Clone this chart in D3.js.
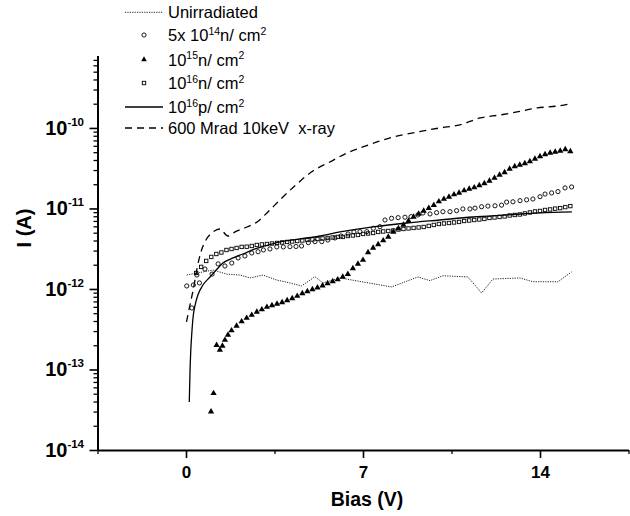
<!DOCTYPE html>
<html><head><meta charset="utf-8">
<script src="https://cdn.jsdelivr.net/npm/d3@7"></script>
<style>
body{margin:0;background:#fff}
svg{display:block}
text{font-family:Arial,"Liberation Sans",Helvetica,sans-serif;fill:#000;white-space:pre}
</style>
</head><body>
<svg id="c" width="630" height="516"></svg>
<script>
// ---------------- data (Bias in V, current in A) ----------------
const biasUnirr = [0.03,1.07,1.61,2.14,2.53,3.04,3.59,4.11,4.57,5.10,5.42,6.09,8.13,9.17,9.65,10.16,11.15,11.69,12.14,13.21,13.72,14.71,15.25];
const iUnirr    = [1.49e-12,1.72e-12,1.53e-12,1.49e-12,1.37e-12,1.49e-12,1.29e-12,1.19e-12,1.09e-12,1.42e-12,1.19e-12,1.37e-12,1.06e-12,1.41e-12,1.27e-12,1.46e-12,1.41e-12,8.9e-13,1.33e-12,1.37e-12,1.23e-12,1.23e-12,1.63e-12];

const bias5e14n = [0.03,0.23,0.29,0.43,0.53,0.75,1.03,1.27,1.54,1.81,2.06,2.33,2.60,2.85,3.06,3.32,3.59,3.85,4.11,4.35,4.57,4.84,5.10,5.37,5.61,5.89,6.13,6.41,6.64,6.88,7.15,7.41,7.67,7.87,8.13,8.39,8.66,8.90,9.17,9.37,9.65,9.91,10.16,10.44,10.70,10.95,11.23,11.43,11.69,11.94,12.22,12.48,12.68,12.93,13.21,13.47,13.72,14.00,14.20,14.46,14.71,14.99,15.25];
const i5e14n    = [1.09e-12,5.81e-13,1.12e-12,1.49e-12,1.19e-12,1.77e-12,1.53e-12,2.05e-12,1.93e-12,2.10e-12,2.43e-12,2.57e-12,2.80e-12,2.90e-12,3.05e-12,3.14e-12,3.33e-12,3.33e-12,3.35e-12,3.37e-12,3.42e-12,3.76e-12,3.87e-12,3.87e-12,4.06e-12,4.30e-12,4.55e-12,4.82e-12,5.11e-12,5.15e-12,5.15e-12,5.67e-12,5.94e-12,7.19e-12,7.55e-12,7.69e-12,7.78e-12,7.91e-12,8.30e-12,8.79e-12,8.55e-12,8.87e-12,9.12e-12,9.12e-12,9.39e-12,9.86e-12,9.86e-12,1.01e-11,1.05e-11,1.07e-11,1.08e-11,1.10e-11,1.20e-11,1.21e-11,1.25e-11,1.28e-11,1.31e-11,1.40e-11,1.51e-11,1.56e-11,1.62e-11,1.80e-11,1.85e-11];

const bias1e15n = [0.99,1.09,1.21,1.34,1.44,1.54,1.66,1.8,2.0,2.2,2.4,2.6,2.8,3.0,3.2,3.4,3.6,3.8,4.0,4.2,4.4,4.6,4.8,5.0,5.2,5.4,5.6,5.8,6.0,6.2,6.4,6.6,6.8,7.0,7.2,7.4,7.6,7.8,8.0,8.2,8.4,8.6,8.8,9.0,9.2,9.4,9.6,9.8,10.0,10.2,10.4,10.6,10.8,11.0,11.2,11.4,11.6,11.8,12.0,12.2,12.4,12.6,12.8,13.0,13.2,13.4,13.6,13.8,14.0,14.2,14.4,14.6,14.8,15.0,15.2];
const i1e15n    = [2.99e-14,5.06e-14,2.01e-13,1.75e-13,1.96e-13,2.32e-13,2.69e-13,3.05e-13,3.47e-13,3.94e-13,4.36e-13,4.75e-13,5.18e-13,5.56e-13,5.97e-13,6.24e-13,6.51e-13,6.80e-13,7.20e-13,7.62e-13,8.18e-13,8.79e-13,9.31e-13,9.86e-13,1.04e-12,1.10e-12,1.17e-12,1.24e-12,1.31e-12,1.41e-12,1.53e-12,1.80e-12,2.05e-12,2.29e-12,2.84e-12,3.23e-12,3.57e-12,4.00e-12,4.43e-12,5.11e-12,5.65e-12,6.24e-12,6.99e-12,7.84e-12,8.55e-12,9.31e-12,1.01e-11,1.10e-11,1.22e-11,1.31e-11,1.39e-11,1.49e-11,1.56e-11,1.67e-11,1.75e-11,1.82e-11,1.93e-11,2.05e-11,2.20e-11,2.39e-11,2.61e-11,2.80e-11,3.10e-11,3.33e-11,3.47e-11,3.62e-11,3.84e-11,4.12e-11,4.43e-11,4.69e-11,4.89e-11,5.04e-11,5.18e-11,5.41e-11,5.11e-11];

const bias1e16n = [0.4,0.6,0.8,1.0,1.2,1.4,1.6,1.8,2.0,2.2,2.4,2.6,2.8,3.0,3.2,3.4,3.6,3.8,4.0,4.2,4.4,4.6,4.8,5.0,5.2,5.4,5.6,5.8,6.0,6.2,6.4,6.6,6.8,7.0,7.2,7.4,7.6,7.8,8.0,8.2,8.4,8.6,8.8,9.0,9.2,9.4,9.6,9.8,10.0,10.2,10.4,10.6,10.8,11.0,11.2,11.4,11.6,11.8,12.0,12.2,12.4,12.6,12.8,13.0,13.2,13.4,13.6,13.8,14.0,14.2,14.4,14.6,14.8,15.0,15.2];
const i1e16n    = [1.58e-12,1.88e-12,2.23e-12,2.50e-12,2.72e-12,2.84e-12,3.05e-12,3.14e-12,3.23e-12,3.33e-12,3.35e-12,3.42e-12,3.52e-12,3.57e-12,3.62e-12,3.67e-12,3.73e-12,3.78e-12,3.84e-12,3.89e-12,3.94e-12,4.00e-12,4.06e-12,4.12e-12,4.18e-12,4.24e-12,4.30e-12,4.36e-12,4.43e-12,4.43e-12,4.55e-12,4.62e-12,4.69e-12,4.82e-12,4.89e-12,4.96e-12,5.11e-12,5.18e-12,5.25e-12,5.33e-12,5.48e-12,5.56e-12,5.65e-12,5.73e-12,5.81e-12,5.89e-12,6.07e-12,6.24e-12,6.42e-12,6.51e-12,6.60e-12,6.70e-12,6.80e-12,6.99e-12,7.09e-12,7.19e-12,7.30e-12,7.41e-12,7.62e-12,7.73e-12,7.84e-12,7.96e-12,8.18e-12,8.30e-12,8.42e-12,8.67e-12,8.92e-12,9.18e-12,9.31e-12,9.58e-12,9.72e-12,9.95e-12,1.01e-11,1.04e-11,1.07e-11];

const bias1e16p = [0.13,0.16,0.19,0.23,0.29,0.36,0.47,0.67,0.95,1.23,1.46,1.86,2.25,2.73,3.12,3.72,4.51,5.30,6.09,7.39,8.74,10.04,11.35,12.69,14.00,15.26];
const i1e16p    = [3.94e-14,9.86e-14,1.75e-13,2.84e-13,4.75e-13,6.32e-13,8.41e-13,1.12e-12,1.41e-12,1.77e-12,2.10e-12,2.43e-12,2.72e-12,3.14e-12,3.42e-12,3.84e-12,4.18e-12,4.55e-12,5.11e-12,5.89e-12,6.60e-12,7.19e-12,7.83e-12,8.30e-12,8.79e-12,9.05e-12];

const biasXray = [0.02,0.10,0.20,0.32,0.44,0.59,0.79,1.07,1.34,1.66,1.94,2.41,2.81,3.24,3.72,4.39,5.02,5.69,6.37,7.00,7.55,8.19,8.98,10.04,10.83,11.63,12.42,13.09,13.88,14.67,15.18];
const iXray    = [3.89e-13,5.18e-13,7.30e-13,1.12e-12,1.82e-12,2.88e-12,4.06e-12,5.11e-12,5.56e-12,4.55e-12,5.11e-12,5.89e-12,6.79e-12,9.05e-12,1.28e-11,2.02e-11,2.92e-11,3.78e-11,4.89e-11,5.81e-11,6.70e-11,7.73e-11,8.67e-11,1.00e-10,1.09e-10,1.33e-10,1.45e-10,1.58e-10,1.77e-10,1.87e-10,1.99e-10];

const xTickValues = [0, 7, 14];
const xTickLabels = ["0", "7", "14"];
const xMinorTicks = [-3.5, 3.5, 10.5, 17.5];
const yTickValues = [1e-14, 1e-13, 1e-12, 1e-11, 1e-10];
const yTickExponents = ["-14", "-13", "-12", "-11", "-10"];
const xTitle = "Bias (V)";
const yTitle = "I (A)";
// legend labels: segments [text, isSuperscript]
const legendLabels = [
  [["Unirradiated", false]],
  [["5x 10", false], ["14", true], ["n/ cm", false], ["2", true]],
  [["10", false], ["15", true], ["n/ cm", false], ["2", true]],
  [["10", false], ["16", true], ["n/ cm", false], ["2", true]],
  [["10", false], ["16", true], ["p/ cm", false], ["2", true]],
  [["600 Mrad 10keV  x-ray", false]]
];

// ---------------- chart ----------------
const svg = d3.select("#c");
const x = d3.scaleLinear().domain([-3.5, 17.5]).range([97.5, 628.5]);
const y = d3.scaleLog().domain([1e-14, 7.94e-10]).range([450, 55.5]);

const zip = (a, b) => a.map((v, i) => [v, b[i]]);

// axes
const yMinor = y.ticks().filter(t => !yTickValues.some(m => Math.abs(m - t) / m < 1e-6));
const gy = svg.append("g").attr("transform", `translate(${x.range()[0]},0)`);
gy.call(d3.axisLeft(y).tickValues(yMinor).tickSize(4).tickSizeOuter(0).tickFormat(""));
gy.call(g => g.selectAll(".tick line").attr("stroke-width", 1.3));
const gy2 = svg.append("g").attr("transform", `translate(${x.range()[0]},0)`);
gy2.call(d3.axisLeft(y).tickValues(yTickValues).tickSize(8).tickSizeOuter(0).tickFormat(""));
gy2.select(".domain").remove();
gy2.selectAll(".tick line").attr("stroke-width", 1.6);
gy.select(".domain").attr("stroke-width", 2);

yTickValues.forEach((v, i) => {
  const t = svg.append("text").attr("x", 84).attr("y", y(v) + 7).attr("text-anchor", "end")
    .attr("font-weight", "bold").attr("font-size", 20);
  t.append("tspan").text("10");
  t.append("tspan").attr("font-size", 11.5).attr("dy", -9).text(yTickExponents[i]);
});

const gx = svg.append("g").attr("transform", "translate(0,450)");
gx.call(d3.axisBottom(x).tickValues(xMinorTicks).tickSize(4).tickSizeOuter(0).tickFormat(""));
gx.select(".domain").attr("stroke-width", 2);
gx.selectAll(".tick line").attr("stroke-width", 1.3);
const gx2 = svg.append("g").attr("transform", "translate(0,450)");
gx2.call(d3.axisBottom(x).tickValues(xTickValues).tickSize(8).tickPadding(8).tickSizeOuter(0)
  .tickFormat((d, i) => xTickLabels[i]));
gx2.select(".domain").remove();
gx2.selectAll(".tick line").attr("stroke-width", 1.6);
gx2.selectAll(".tick text").attr("font-size", 17).attr("font-weight", "bold")
  .attr("font-family", "Arial, 'Liberation Sans', sans-serif").attr("fill", "#000");

svg.append("text").attr("x", 367).attr("y", 506).attr("text-anchor", "middle")
  .attr("font-weight", "bold").attr("font-size", 19.5).text(xTitle);
svg.append("text").attr("transform", "translate(31,228) rotate(-90)").attr("text-anchor", "middle")
  .attr("font-weight", "bold").attr("font-size", 20).text(yTitle);

// series
const lineLin = d3.line().x(d => x(d[0])).y(d => y(d[1]));
const lineSmooth = d3.line().x(d => x(d[0])).y(d => y(d[1])).curve(d3.curveMonotoneX);

svg.append("path").datum(zip(biasUnirr, iUnirr)).attr("d", lineLin)
  .attr("fill", "none").attr("stroke", "#222").attr("stroke-width", 1).attr("stroke-dasharray", "1.2,1.2");
svg.append("path").datum(zip(biasXray, iXray)).attr("d", lineSmooth)
  .attr("fill", "none").attr("stroke", "#000").attr("stroke-width", 1.3).attr("stroke-dasharray", "7,5");
svg.append("path").datum(zip(bias1e16p, i1e16p)).attr("d", lineSmooth)
  .attr("fill", "none").attr("stroke", "#000").attr("stroke-width", 1.3);

svg.append("g").selectAll("rect").data(zip(bias1e16n, i1e16n)).join("rect")
  .attr("x", d => x(d[0]) - 1.7).attr("y", d => y(d[1]) - 1.7).attr("width", 3.4).attr("height", 3.4)
  .attr("fill", "none").attr("stroke", "#000").attr("stroke-width", 0.9);
svg.append("g").selectAll("circle").data(zip(bias5e14n, i5e14n)).join("circle")
  .attr("cx", d => x(d[0])).attr("cy", d => y(d[1])).attr("r", 2.1)
  .attr("fill", "none").attr("stroke", "#000").attr("stroke-width", 0.9);
const tri = d3.symbol(d3.symbolTriangle, 17);
svg.append("g").selectAll("path").data(zip(bias1e15n, i1e15n)).join("path")
  .attr("transform", d => `translate(${x(d[0])},${y(d[1])})`).attr("d", tri).attr("fill", "#000");

// legend
const rows = [12.3, 35, 59.5, 83, 107, 128];
const lg = svg.append("g");
lg.append("line").attr("x1", 125).attr("x2", 163).attr("y1", rows[0]).attr("y2", rows[0])
  .attr("stroke", "#222").attr("stroke-width", 1).attr("stroke-dasharray", "1.2,1.2");
lg.append("circle").attr("cx", 144).attr("cy", rows[1]).attr("r", 2.1).attr("fill", "none").attr("stroke", "#000").attr("stroke-width", 0.9);
lg.append("path").attr("transform", `translate(144,${rows[2]})`).attr("d", d3.symbol(d3.symbolTriangle, 14)).attr("fill", "#000");
lg.append("rect").attr("x", 142.3).attr("y", rows[3] - 1.7).attr("width", 3.4).attr("height", 3.4).attr("fill", "none").attr("stroke", "#000").attr("stroke-width", 0.9);
lg.append("line").attr("x1", 125).attr("x2", 163).attr("y1", rows[4]).attr("y2", rows[4]).attr("stroke", "#000").attr("stroke-width", 1.3);
lg.append("line").attr("x1", 125).attr("x2", 163).attr("y1", rows[5]).attr("y2", rows[5]).attr("stroke", "#000").attr("stroke-width", 1.3).attr("stroke-dasharray", "7,5");

legendLabels.forEach((segs, i) => {
  const t = lg.append("text").attr("x", 168).attr("y", rows[i] + 6).attr("font-size", 16.5);
  let up = false;
  segs.forEach(([s, sup]) => {
    const ts = t.append("tspan").text(s);
    if (sup && !up) { ts.attr("dy", -6.5).attr("font-size", 10.5); up = true; }
    else if (sup) { ts.attr("font-size", 10.5); }
    else if (!sup && up) { ts.attr("dy", 6.5); up = false; }
  });
});
</script>
</body></html>
